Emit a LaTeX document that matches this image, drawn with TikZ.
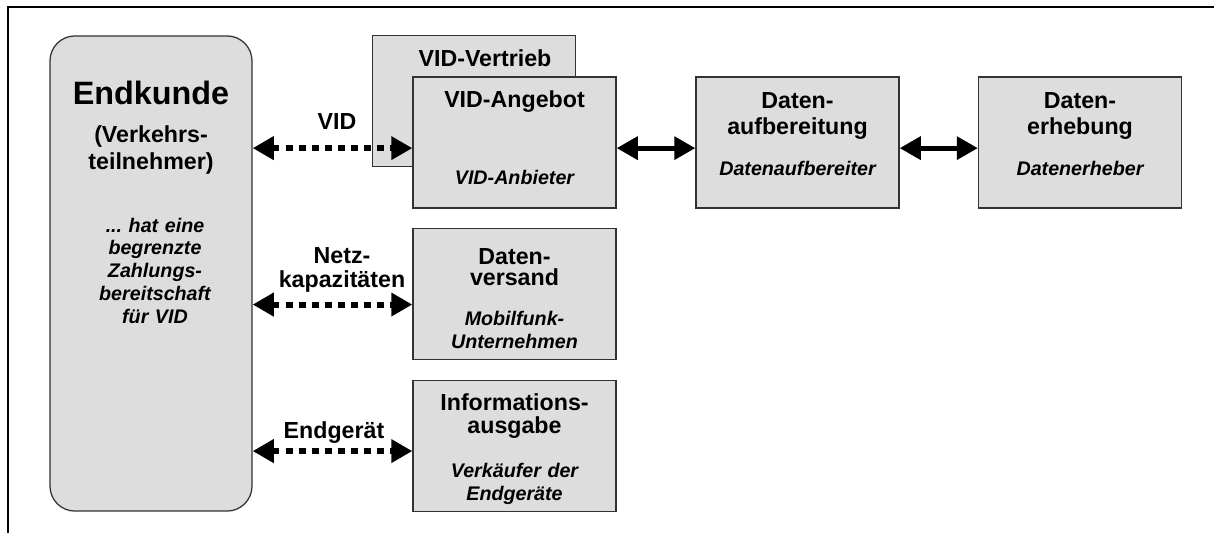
\documentclass[tikz,border=0pt]{standalone}
\usepackage{fontspec}
\setmainfont{Liberation Sans}
\usetikzlibrary{arrows.meta}

\definecolor{boxgray}{RGB}{221,221,221}

\tikzset{
  block/.style={draw=black!80, fill=boxgray, line width=0.9pt, minimum width=5.075cm, minimum height=3.275cm, inner sep=0pt},
  ttl/.style={anchor=base, align=center, text width=4.8cm, inner sep=0pt, font=\fontsize{16.5}{#1}\selectfont\bfseries},
  ttl/.default=18.5pt,
  subtxt/.style={anchor=base, align=center, text width=4.8cm, inner sep=0pt, font=\fontsize{14}{#1}\selectfont\bfseries\itshape},
  subtxt/.default=16.4pt,
  dotarrow/.style={{Triangle[length=15pt,width=16pt]}-{Triangle[length=15pt,width=16pt]}, line width=4.2pt, dash pattern=on 5pt off 4.3pt},
  solidarrow/.style={{Triangle[length=15pt,width=16pt]}-{Triangle[length=15pt,width=16pt]}, line width=3.5pt}
}

\begin{document}
\begin{tikzpicture}[x=0.025cm, y=-0.025cm]
  \useasboundingbox (0,0) rectangle (1214,533);
  \draw[line width=1.5pt] (8,533) -- (8,7) -- (1214,7);

  % customer
  \node at (151,273.5) [draw=black!80, fill=boxgray, line width=0.9pt, rounded corners=0.625cm, minimum width=5.05cm, minimum height=11.875cm] (end) {};
  \node at (151,104) [ttl, font=\fontsize{23}{27}\selectfont\bfseries] (endT) {Endkunde};
  \node at (151,142) [ttl, font=\fontsize{16.5}{19.9}\selectfont\bfseries] (endR) {(Verkehrs-\\teilnehmer)};
  \node at (155,232) [subtxt=16.2pt] (endS) {...\ hat eine\\begrenzte\\Zahlungs-\\bereitschaft\\für VID};

  % value chain
  \node at (474,101) [block] (vtr) {};
  \node at (485,66) [ttl] (vtrT) {VID-Vertrieb};

  \node at (514.5,142.5) [block] (ang) {};
  \node at (514.5,107) [ttl] (angT) {VID-Angebot};
  \node at (514.5,184) [subtxt] (angS) {VID-Anbieter};

  \node at (797.5,142.5) [block] (aufb) {};
  \node at (797.5,108) [ttl] (aufbT) {Daten-\\aufbereitung};
  \node at (797.5,175) [subtxt] (aufbS) {Datenaufbereiter};

  \node at (1080,142.5) [block] (erh) {};
  \node at (1080,108) [ttl] (erhT) {Daten-\\erhebung};
  \node at (1080,175) [subtxt] (erhS) {Datenerheber};

  \node at (514.5,294) [block] (vers) {};
  \node at (514.5,264) [ttl=15.6pt] (versT) {Daten-\\versand};
  \node at (514.5,325) [subtxt] (versS) {Mobilfunk-\\Unternehmen};

  \node at (514.5,446) [block] (info) {};
  \node at (514.5,410) [ttl=16.4pt] (infoT) {Informations-\\ausgabe};
  \node at (514.5,477) [subtxt] (infoS) {Verkäufer der\\Endgeräte};

  % links
  \node at (337,129) [ttl] (vidL) {VID};
  \node at (342,263) [ttl=17.5pt] (netzL) {Netz-\\kapazitäten};
  \node at (334,438) [ttl] (geraetL) {Endgerät};

  \draw[dotarrow] ([yshift=-4pt]ang.west -| end.east) -- ([yshift=-4pt]ang.west);
  \draw[dotarrow] ([yshift=-7.5pt]vers.west -| end.east) -- ([yshift=-7.5pt]vers.west);
  \draw[dotarrow] ([yshift=-3.6pt]info.west -| end.east) -- ([yshift=-3.6pt]info.west);

  \draw[solidarrow] ([yshift=-4pt]ang.east) -- ([yshift=-4pt]aufb.west);
  \draw[solidarrow] ([yshift=-4pt]aufb.east) -- ([yshift=-4pt]erh.west);
\end{tikzpicture}
\end{document}
